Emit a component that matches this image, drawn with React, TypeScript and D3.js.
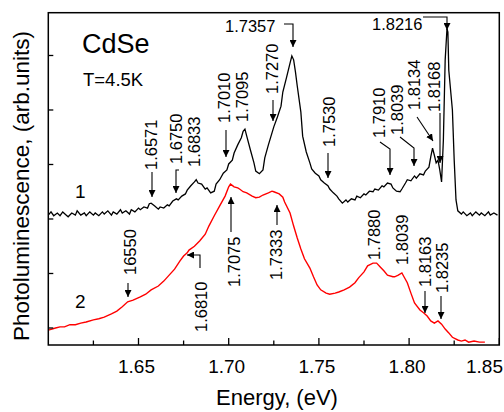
import * as d3 from "d3";

// curve 1 (black), energy in eV / intensity in arb. units
const energy1 = [
  1.600, 1.6015, 1.603, 1.605, 1.6065, 1.608, 1.610, 1.611, 1.613, 1.615, 1.616, 1.618, 1.620, 1.621,
  1.623, 1.625, 1.626, 1.628, 1.630, 1.631, 1.633, 1.635, 1.636, 1.638, 1.640, 1.641, 1.643, 1.645,
  1.646, 1.648, 1.650, 1.651, 1.653, 1.655, 1.656, 1.657, 1.659, 1.661, 1.662, 1.664, 1.666, 1.667,
  1.669, 1.671, 1.672, 1.674, 1.676, 1.677, 1.679, 1.681, 1.682, 1.683, 1.685, 1.687, 1.688, 1.690,
  1.692, 1.693, 1.695, 1.697, 1.699, 1.700, 1.702, 1.703, 1.705, 1.707, 1.708, 1.709, 1.710, 1.712,
  1.714, 1.715, 1.717, 1.719, 1.720, 1.722, 1.724, 1.725, 1.727, 1.729, 1.730, 1.732, 1.734, 1.735,
  1.736, 1.737, 1.738, 1.740, 1.741, 1.743, 1.745, 1.746, 1.748, 1.750, 1.751, 1.753, 1.755, 1.756,
  1.758, 1.760, 1.761, 1.763, 1.765, 1.766, 1.768, 1.770, 1.771, 1.773, 1.775, 1.776, 1.778, 1.780,
  1.781, 1.783, 1.785, 1.786, 1.788, 1.790, 1.791, 1.793, 1.795, 1.796, 1.798, 1.799, 1.801, 1.803,
  1.804, 1.806, 1.808, 1.809, 1.811, 1.812, 1.813, 1.814, 1.815, 1.816, 1.817, 1.818, 1.819, 1.820,
  1.821, 1.8215, 1.822, 1.824, 1.825, 1.826, 1.827, 1.829, 1.830, 1.832, 1.834, 1.835, 1.837, 1.839,
  1.840, 1.842, 1.844, 1.845, 1.847, 1.849,
];
const intensity1 = [
  2.07, 2.13, 2.06, 2.11, 2.06, 2.13, 2.07, 2.04, 2.11, 2.07, 2.15, 2.07, 2.11, 2.06,
  2.13, 2.07, 2.11, 2.06, 2.13, 2.09, 2.15, 2.07, 2.13, 2.09, 2.17, 2.11, 2.15, 2.09,
  2.17, 2.13, 2.20, 2.17, 2.22, 2.20, 2.28, 2.29, 2.24, 2.18, 2.22, 2.20, 2.26, 2.24,
  2.33, 2.37, 2.35, 2.42, 2.46, 2.53, 2.61, 2.68, 2.72, 2.66, 2.64, 2.55, 2.57, 2.48,
  2.51, 2.64, 2.72, 2.84, 2.90, 3.01, 3.08, 3.21, 3.36, 3.49, 3.61, 3.65, 3.52, 3.27,
  3.03, 2.88, 2.83, 2.90, 3.12, 3.36, 3.58, 3.69, 3.87, 4.07, 4.33, 4.59, 4.86, 4.99,
  4.92, 4.70, 4.44, 3.96, 3.52, 3.23, 3.03, 2.92, 2.84, 2.79, 2.72, 2.66, 2.61, 2.55,
  2.48, 2.42, 2.37, 2.29, 2.35, 2.31, 2.37, 2.35, 2.42, 2.39, 2.46, 2.44, 2.51, 2.50,
  2.55, 2.53, 2.61, 2.59, 2.66, 2.64, 2.57, 2.51, 2.50, 2.55, 2.66, 2.72, 2.70, 2.79,
  2.75, 2.83, 2.81, 2.88, 2.95, 3.14, 3.30, 3.17, 3.03, 3.08, 2.90, 2.68, 3.45, 4.92,
  5.49, 5.43, 4.73, 4.00, 3.08, 2.35, 2.15, 2.09, 2.13, 2.06, 2.11, 2.06, 2.13, 2.07,
  2.11, 2.06, 2.13, 2.07, 2.11, 2.07,
];

// curve 2 (red)
const energy2 = [
  1.600, 1.602, 1.604, 1.6065, 1.609, 1.612, 1.615, 1.618, 1.621, 1.625, 1.628, 1.631, 1.635, 1.638,
  1.641, 1.644, 1.647, 1.651, 1.654, 1.657, 1.661, 1.664, 1.667, 1.670, 1.673, 1.675, 1.677, 1.678,
  1.681, 1.684, 1.687, 1.689, 1.692, 1.695, 1.698, 1.700, 1.701, 1.703, 1.705, 1.706, 1.708, 1.710,
  1.713, 1.715, 1.717, 1.719, 1.722, 1.724, 1.725, 1.728, 1.730, 1.731, 1.734, 1.736, 1.738, 1.740,
  1.742, 1.745, 1.747, 1.749, 1.751, 1.754, 1.756, 1.759, 1.761, 1.764, 1.767, 1.770, 1.772, 1.775,
  1.777, 1.780, 1.782, 1.784, 1.786, 1.788, 1.791, 1.792, 1.794, 1.796, 1.797, 1.799, 1.801, 1.803,
  1.806, 1.808, 1.810, 1.812, 1.814, 1.816, 1.818, 1.820, 1.822, 1.824, 1.827, 1.829, 1.831, 1.833,
  1.836, 1.839, 1.842,
];
const intensity2 = [
  -0.04, -0.02, 0.0, 0.02, 0.02, 0.06, 0.06, 0.09, 0.11, 0.15, 0.17, 0.20, 0.26, 0.31,
  0.39, 0.48, 0.51, 0.57, 0.62, 0.70, 0.77, 0.86, 0.97, 1.08, 1.23, 1.32, 1.38, 1.43,
  1.50, 1.60, 1.72, 1.87, 2.06, 2.24, 2.42, 2.59, 2.64, 2.59, 2.57, 2.55, 2.50, 2.48,
  2.42, 2.39, 2.40, 2.44, 2.48, 2.51, 2.50, 2.46, 2.40, 2.31, 2.11, 1.87, 1.65, 1.45,
  1.27, 1.10, 0.94, 0.79, 0.70, 0.64, 0.62, 0.64, 0.66, 0.70, 0.75, 0.83, 0.92, 1.03,
  1.14, 1.19, 1.19, 1.12, 1.05, 0.97, 0.94, 0.94, 0.97, 1.01, 0.95, 0.83, 0.64, 0.46,
  0.33, 0.28, 0.22, 0.13, 0.09, 0.13, 0.07, -0.02, -0.09, -0.17, -0.22, -0.24, -0.22, -0.26,
  -0.24, -0.26, -0.26,
];

const xMajorTicks = [1.65, 1.7, 1.75, 1.8, 1.85];
const xTickLabels = ["1.65", "1.70", "1.75", "1.80", "1.85"];
const xMinorTicks = [1.625, 1.675, 1.725, 1.775, 1.825];
const yTicks = [0, 1, 2, 3, 4, 5];

// annotation layout: rotated labels (x = baseline, y = start of text)
const rotatedLabels = [
  { t: "1.6571", x: 157, y: 170 },
  { t: "1.6750", x: 182, y: 164 },
  { t: "1.6833", x: 200, y: 167 },
  { t: "1.7010", x: 230, y: 123 },
  { t: "1.7095", x: 248, y: 122 },
  { t: "1.7270", x: 278, y: 94 },
  { t: "1.7530", x: 335, y: 147 },
  { t: "1.7910", x: 385, y: 138 },
  { t: "1.8039", x: 403, y: 135 },
  { t: "1.8134", x: 420, y: 110 },
  { t: "1.8168", x: 440, y: 112 },
  { t: "16550", x: 136, y: 275 },
  { t: "1.6810", x: 207, y: 332 },
  { t: "1.7075", x: 240, y: 287 },
  { t: "1.7333", x: 282, y: 280 },
  { t: "1.7880", x: 380, y: 260 },
  { t: "1.8039", x: 408, y: 265 },
  { t: "1.8163", x: 431, y: 287 },
  { t: "1.8235", x: 448, y: 293 },
];
const flatLabels = [
  { t: "1.7357", x: 225, y: 32 },
  { t: "1.8216", x: 372, y: 30 },
];
const arrowPaths = [
  "M152,172V197",
  "M179,170H176V193",
  "M226,130V157",
  "M273,100V121",
  "M284,24H293V47",
  "M328,153V178",
  "M380,142L390,149V175",
  "M400,137L414,148V166",
  "M417,117L433,141",
  "M440,113V163",
  "M423,17H447V30",
  "M128,283V297",
  "M200,268V255H187",
  "M231,232V197",
  "M277,225V205",
  "M425,291V313",
  "M441,296V319",
];

const W = 504;
const H = 412;
const left = 48.3;
const right = 499.3;
const top = 12.7;
const bottom = 345;
const font = "'Liberation Sans', Arial, sans-serif";

export default function App() {
  const x = d3.scaleLinear().domain([1.6, 1.85]).range([left, right]);
  const y = d3.scaleLinear().domain([-0.312, 5.785]).range([bottom, top]);
  const line = d3
    .line<[number, number]>()
    .x((d) => x(d[0]))
    .y((d) => y(d[1]));
  const s1 = energy1.map((e, i) => [e, intensity1[i]] as [number, number]);
  const s2 = energy2.map((e, i) => [e, intensity2[i]] as [number, number]);

  return (
    <svg
      width={W}
      height={H}
      style={{ position: "absolute", left: 0, top: 0, background: "#fff" }}
      fontFamily={font}
    >
      <defs>
        <marker
          id="ah"
          viewBox="0 0 10 10"
          refX="10"
          refY="5"
          markerWidth="7"
          markerHeight="7"
          markerUnits="userSpaceOnUse"
          orient="auto"
        >
          <path d="M0,0L10,5L0,10Z" fill="#000" />
        </marker>
      </defs>

      <path d={line(s2) || ""} fill="none" stroke="#ff0000" strokeWidth={1.4} />
      <path d={line(s1) || ""} fill="none" stroke="#000" strokeWidth={1.3} />

      {/* frame */}
      <rect
        x={left}
        y={top}
        width={right - left}
        height={bottom - top}
        fill="none"
        stroke="#000"
        strokeWidth={1.5}
      />
      {xMajorTicks.map((t) => (
        <line key={"M" + t} x1={x(t)} x2={x(t)} y1={bottom} y2={bottom - 7} stroke="#000" strokeWidth={1.3} />
      ))}
      {xMinorTicks.map((t) => (
        <line key={"m" + t} x1={x(t)} x2={x(t)} y1={bottom} y2={bottom - 4.5} stroke="#000" strokeWidth={1.3} />
      ))}
      {yTicks.map((t) => (
        <line key={"y" + t} x1={left} x2={left + 5} y1={y(t)} y2={y(t)} stroke="#000" strokeWidth={1.3} />
      ))}
      {xMajorTicks.map((t, i) => (
        <text
          key={"l" + t}
          x={i === xMajorTicks.length - 1 ? 503 : x(t) - 2}
          y={373}
          fontSize={19}
          textAnchor={i === xMajorTicks.length - 1 ? "end" : "middle"}
        >
          {xTickLabels[i]}
        </text>
      ))}

      <text x={277} y={405} fontSize={22} textAnchor="middle">
        Energy, (eV)
      </text>
      <text
        transform="translate(29,186) rotate(-90)"
        fontSize={22.5}
        textAnchor="middle"
      >
        Photoluminescence, (arb.units)
      </text>

      <text x={82} y={53} fontSize={27}>
        CdSe
      </text>
      <text x={83} y={86} fontSize={18.5}>
        T=4.5K
      </text>
      <text x={75} y={198} fontSize={19}>
        1
      </text>
      <text x={75} y={308} fontSize={19}>
        2
      </text>

      {rotatedLabels.map((l, i) => (
        <text key={"r" + i} transform={`translate(${l.x},${l.y}) rotate(-90)`} fontSize={16.5}>
          {l.t}
        </text>
      ))}
      {flatLabels.map((l, i) => (
        <text key={"f" + i} x={l.x} y={l.y} fontSize={16.5}>
          {l.t}
        </text>
      ))}
      {arrowPaths.map((d, i) => (
        <path key={"a" + i} d={d} fill="none" stroke="#000" strokeWidth={1.1} markerEnd="url(#ah)" />
      ))}
    </svg>
  );
}
